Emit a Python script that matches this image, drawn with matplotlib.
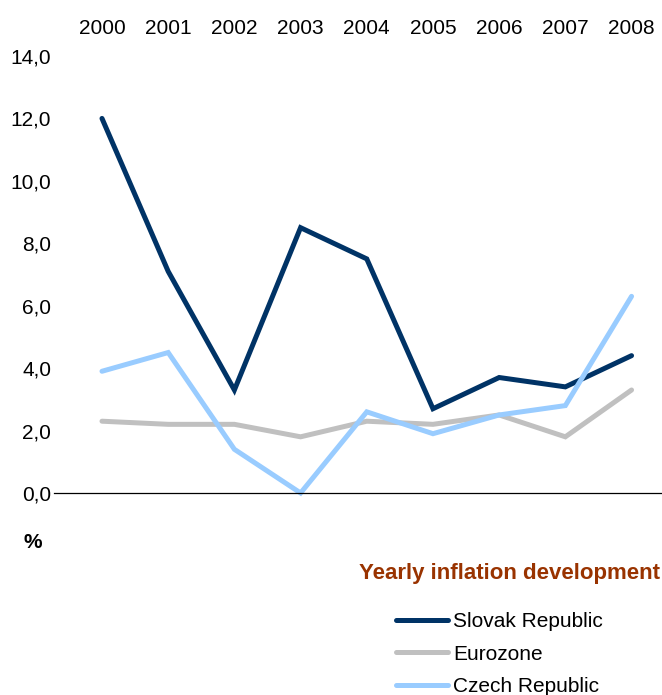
import matplotlib
matplotlib.use("Agg")
import matplotlib.pyplot as plt

plt.rcParams["font.family"] = ["Liberation Sans", "DejaVu Sans"]

years = ["2000", "2001", "2002", "2003", "2004",
         "2005", "2006", "2007", "2008"]

slovak = [12.0, 7.1, 3.3, 8.5, 7.5, 2.7, 3.7, 3.4, 4.4]
eurozone = [2.3, 2.2, 2.2, 1.8, 2.3, 2.2, 2.5, 1.8, 3.3]
czech = [3.9, 4.5, 1.4, 0.0, 2.6, 1.9, 2.5, 2.8, 6.3]

y_ticks = [0, 2, 4, 6, 8, 10, 12, 14]

series = [
    ("Slovak Republic", slovak, "#003366"),
    ("Eurozone", eurozone, "#C0C0C0"),
    ("Czech Republic", czech, "#99CCFF"),
]

W, H = 662, 695
fig = plt.figure(figsize=(W / 100, H / 100), dpi=100)

# axes box in pixels: left 54, top 56, bottom 493
ax = fig.add_axes([54 / W, 1 - 493 / H, 1 - 54 / W, (493 - 56) / H])

x = list(range(len(years)))
for name, vals, color in series:
    ax.plot(
        x, vals,
        color=color,
        linewidth=3.6,
        solid_capstyle="round",
        solid_joinstyle="miter",
        label=name,
        clip_on=False
    )

ax.set_xlim(-0.725, 8.46)
ax.set_ylim(0, 14)

ax.set_xticks(x)
ax.set_xticklabels(years)
ax.xaxis.tick_top()

ax.set_yticks(y_ticks)
ax.set_yticklabels([f"{v:.1f}".replace(".", ",") for v in y_ticks])

ax.tick_params(axis="x", length=0, pad=13, labelsize=15)
ax.tick_params(axis="y", length=0, pad=2, labelsize=15)

for side in ["top", "right", "left"]:
    ax.spines[side].set_visible(False)
ax.spines["bottom"].set_linewidth(0.9)
ax.spines["bottom"].set_color("black")

fig.text(33 / W, 1 - 543 / H, "%", ha="center", va="center",
         fontsize=15, fontweight="bold")

fig.text(660 / W, 1 - 574 / H, "Yearly inflation development",
         ha="right", va="center", fontsize=16, fontweight="bold",
         color="#993300")

fig.legend(
    loc="upper left",
    bbox_to_anchor=(396 / W, 1 - 612 / H),
    bbox_transform=fig.transFigure,
    frameon=False,
    fontsize=15,
    handlelength=2.5,
    handletextpad=0.25,
    labelspacing=0.66,
    borderpad=0,
    borderaxespad=0
)

fig.savefig("out.png", dpi=100)
